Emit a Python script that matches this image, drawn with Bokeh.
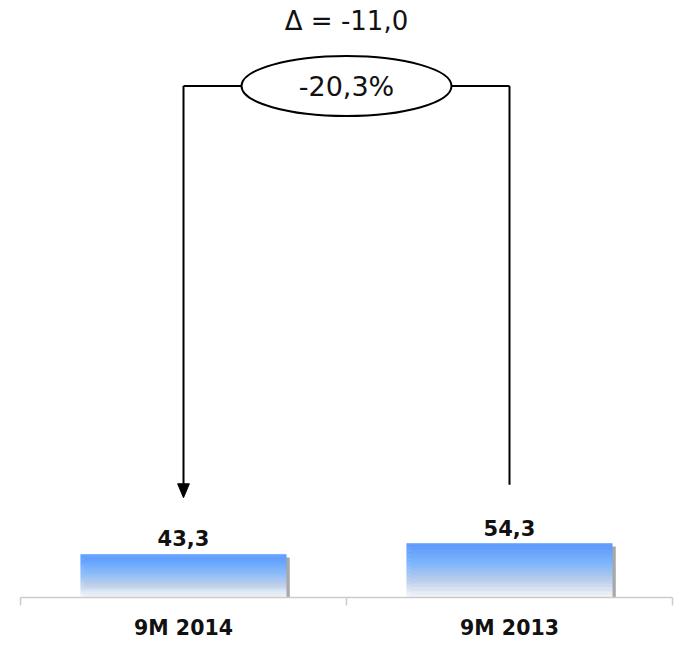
from bokeh.plotting import figure
from bokeh.models import Range1d, FixedTicker, LinearAxis, Ellipse, ColumnDataSource
from bokeh.core.properties import value
from bokeh.embed import file_html
from bokeh.resources import INLINE

# --- data -------------------------------------------------------------------
categories = ["9M 2014", "9M 2013"]
values = [43.3, 54.3]
value_labels = ["43,3", "54,3"]
delta_label = "\u0394 = -11,0"
pct_label = "-20,3%"

FONT_NAME = "DejaVu Sans"
FONT = value(FONT_NAME)

x_centers = [0.5 + i for i in range(len(categories))]

p = figure(width=675, height=645, output_backend="svg", toolbar_location=None,
           x_range=Range1d(0, 2), y_range=Range1d(0, 600),
           min_border_left=20, min_border_right=3, min_border_top=0,
           min_border_bottom=48, x_axis_location=None, y_axis_location=None)
p.grid.visible = False
p.outline_line_color = None
p.background_fill_color = "white"

# --- category axis: tick marks at band edges, labels at band centres ---------
edge_axis = LinearAxis(ticker=FixedTicker(ticks=[0, 1, 2]),
                       axis_line_color="#cccccc", axis_line_width=1.5,
                       major_tick_line_color="#cccccc", major_tick_line_width=1.5,
                       major_tick_in=0, major_tick_out=8,
                       minor_tick_line_color=None,
                       major_label_text_font_size="0px",
                       major_label_text_color=None)
p.add_layout(edge_axis, "below")

label_axis = LinearAxis(ticker=FixedTicker(ticks=x_centers),
                        major_label_overrides={x: c for x, c in zip(x_centers, categories)},
                        axis_line_color=None, major_tick_line_color=None,
                        minor_tick_line_color=None,
                        major_label_text_font=FONT_NAME,
                        major_label_text_font_style="bold",
                        major_label_text_font_size="20.5px",
                        major_label_text_color="#111111",
                        major_label_standoff=4)
p.add_layout(label_axis, "below")

# --- bars: drop shadow + vertical gradient built from thin strips -----------
half_w = 0.315
shadow_dx = 0.011


def mix(c1, c2, t):
    return "#%02x%02x%02x" % tuple(int(round(a + (b - a) * t)) for a, b in zip(c1, c2))


stops = [(0.0, (250, 251, 253)), (0.3, (190, 210, 238)), (0.65, (124, 182, 255)), (1.0, (88, 152, 255))]


def grad(t):
    for (t0, c0), (t1, c1) in zip(stops[:-1], stops[1:]):
        if t <= t1:
            return mix(c0, c1, (t - t0) / (t1 - t0))
    return mix(stops[-1][1], stops[-1][1], 0)


p.quad(left=[x - half_w + shadow_dx for x in x_centers],
       right=[x + half_w + shadow_dx for x in x_centers],
       bottom=0, top=[v - 3 for v in values],
       fill_color="#a8a8a8", line_color=None)

n = 40
L, R, B, T, C = [], [], [], [], []
for x, v in zip(x_centers, values):
    for k in range(n):
        L.append(x - half_w)
        R.append(x + half_w)
        B.append(v * k / n)
        T.append(v * (k + 1) / n)
        C.append(grad((k + 0.5) / n))
p.quad(left=L, right=R, bottom=B, top=T, fill_color=C, line_color=C, line_width=0.5)

# value labels above bars
p.text(x=x_centers, y=[v + 8 for v in values], text=value_labels,
       text_font=FONT, text_font_style="bold", text_font_size="21px",
       text_align="center", text_baseline="bottom", text_color="#111111")

# --- change connector -------------------------------------------------------
y_conn = 514
gap = 57
p.segment(x0=[x_centers[0]], y0=[y_conn], x1=[x_centers[0]], y1=[values[0] + gap + 12],
          line_color="black", line_width=2)
p.segment(x0=[x_centers[1]], y0=[y_conn], x1=[x_centers[1]], y1=[values[1] + gap + 2],
          line_color="black", line_width=2)
# arrow head pointing down at the first bar
tip = values[0] + gap
p.patch(x=[x_centers[0] - 0.018, x_centers[0] + 0.018, x_centers[0]],
        y=[tip + 14, tip + 14, tip], fill_color="black", line_color="black")

ell_w = 210  # screen px
ell_cx = 1.0
half_ell = ell_w / 2 / 326
p.segment(x0=[x_centers[0], ell_cx + half_ell], y0=[y_conn, y_conn],
          x1=[ell_cx - half_ell, x_centers[1]], y1=[y_conn, y_conn],
          line_color="black", line_width=2)
src = ColumnDataSource(dict(x=[ell_cx], y=[y_conn]))
p.add_glyph(src, Ellipse(x="x", y="y", width=ell_w, height=60,
                         width_units="screen", height_units="screen",
                         fill_color="white", line_color="black", line_width=2))

p.text(x=[ell_cx], y=[y_conn], text=[pct_label], text_font=FONT,
       text_font_size="27px", text_align="center", text_baseline="middle",
       text_color="#111111")
p.text(x=[ell_cx], y=[579], text=[delta_label], text_font=FONT,
       text_font_size="26px", text_align="center", text_baseline="middle",
       text_color="#111111")

open("out.html", "w").write(file_html(p, INLINE))
